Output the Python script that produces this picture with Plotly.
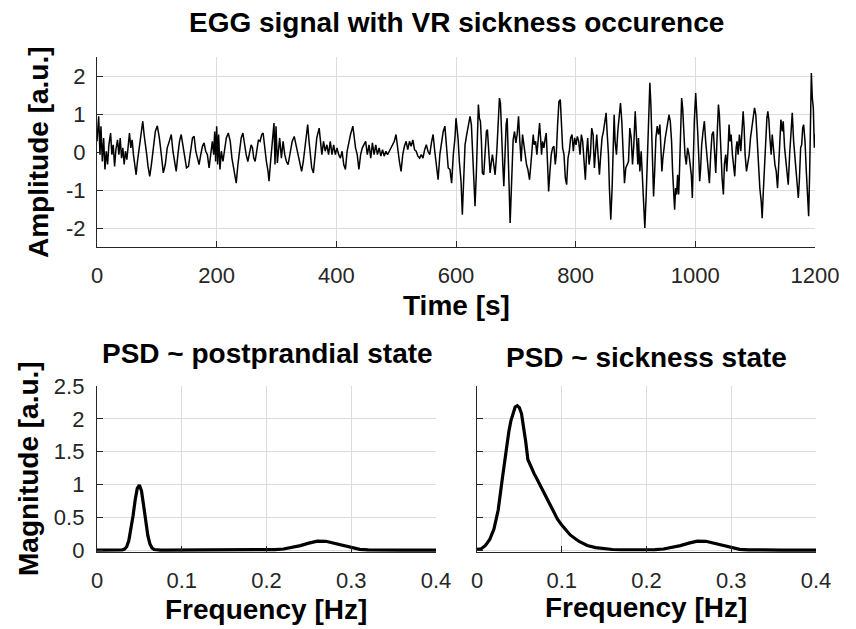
import plotly.graph_objects as go

# ---------------- data ----------------
# EGG signal (time in s, amplitude in a.u.)
egg_t_a = [0, 2.8, 5.0, 6.6, 8.9, 11.1, 13.3, 15.5, 17.7, 19.9,
           22.7, 24.9, 27.1, 29.4, 31.6, 34.3, 36.6, 38.8, 41.0, 43.2,
           45.4, 47.6, 49.9, 52.1, 54.3, 56.5, 58.7, 60.9, 63.2, 65.4,
           67.6, 69.8, 72.0, 74.2, 76.5, 78.7, 80.9, 83.1, 85.3, 88.1,
           90.9, 94.2, 97.5, 100.8, 104.2, 107.5, 110.8, 114.1, 117.4, 120.8,
           124.1, 126.9, 129.6, 132.4, 135.2, 137.9, 140.7, 143.5, 146.3, 149.6,
           152.9, 156.2, 159.6, 162.3, 165.1, 167.9, 170.6, 173.4, 176.2, 178.9,
           181.7, 184.5, 187.3, 190.0, 192.8, 195.0, 196.7, 198.3, 200.0, 201.7,
           203.3, 205.5, 207.8, 210.5, 213.3, 216.1, 219.4, 222.7, 225.5, 228.2,
           231.0, 232.7, 235.5, 238.2, 241.0, 243.8, 246.5, 249.3, 252.1, 254.8,
           257.6, 259.8, 262.0, 264.3, 267.0, 269.8, 272.6, 275.3, 277.6, 280.3,
           283.1, 285.9, 287.5, 289.7, 292.5, 294.2, 295.8, 297.5, 299.2, 301.4,
           303.0]
egg_v_a = [.28, .94, -.07, .68, -.25, .37, -.46, .02, -.33, .19,
           .50, -.07, .19, -.38, .06, .32, -.07, .37, -.16, .11,
           -.33, .02, -.20, .19, .50, .11, .32, -.07, -.38, -.60,
           -.25, .02, .37, .68, .81, .46, .24, -.07, -.38, -.64,
           -.33, .19, .54, .69, .37, -.07, -.55, -.33, .11, .28,
           .46, .02, -.25, -.51, -.07, .28, .46, .19, -.07, -.42,
           -.38, .06, .37, .41, .02, -.16, -.33, -.07, .15, .24,
           .02, -.07, -.42, -.07, .28, -.07, .54, -.25, .68, -.33,
           .46, -.46, .02, -.25, .11, .37, .50, .28, -.16, -.42,
           -.60, -.82, -.33, .02, .37, .50, .19, -.07, -.25, .02,
           .19, .11, -.16, -.25, .02, .32, .28, .46, .50, .11,
           -.25, -.51, -.77, -.33, .28, .63, .76, -.33, .68, -.29,
           .02]

egg_t_b = [305.3, 308.2, 311.0, 313.8, 316.6, 319.4, 322.3, 326.2, 329.6, 333.5,
           337.5, 342.0, 344.8, 348.7, 352.1, 354.4, 356.6, 358.9, 361.7, 364.5,
           367.3, 371.3, 373.5, 375.8, 378.6, 381.4, 384.2, 387.0, 389.9, 392.7,
           395.5, 398.3, 401.1, 403.9, 406.8, 409.6, 412.4, 415.2, 418.0, 420.8,
           423.7, 427.6, 429.9, 432.1, 434.9, 437.7, 440.6, 443.4, 449.0, 451.8,
           454.7, 457.5, 460.3, 463.1, 465.9, 468.7, 471.6, 474.4, 477.2, 480.0,
           482.8, 485.6, 488.5, 491.3, 496.9, 499.7, 502.5, 505.4, 508.2, 511.0,
           513.8, 516.6, 519.4, 522.3, 525.1, 527.9, 530.7, 533.5, 536.3, 539.2,
           542.0, 544.8, 547.6, 550.4, 553.2, 556.1, 558.9, 561.7, 564.5, 567.3,
           570.1, 573.0, 575.8, 578.6, 581.4, 584.2, 587.0, 589.9, 592.7, 595.5,
           598.3, 600.0]
egg_v_b = [.37, -.16, .28, -.07, -.25, -.33, -.07, .28, .41, .11,
           -.25, -.51, -.25, .28, .72, .28, -.07, -.42, -.55, -.07,
           .37, .63, .19, -.07, .28, .02, .19, -.07, .28, -.07,
           .19, -.07, .11, -.07, -.16, .02, -.33, -.46, .02, .28,
           .46, .68, .28, .11, -.07, -.46, -.07, .11, .28, -.07,
           .19, -.16, .24, -.07, .19, -.07, .11, -.11, .06, -.11,
           .02, -.07, .02, .11, .28, .46, .02, -.25, -.51, -.07,
           .15, .28, .06, .28, .15, .32, .06, .02, -.11, -.16,
           -.07, -.16, .06, .19, .02, -.07, .24, .46, .02, -.33,
           -.73, -.07, .28, .54, .68, .11, -.42, -.46, -.82, -.07,
           .37, .89]

egg_t_c = [603.4, 605.6, 608.4, 610.6, 612.9, 615.1, 617.9, 620.7, 623.5, 625.7,
           627.9, 630.2, 631.8, 634.1, 635.8, 637.4, 639.1, 640.8, 642.5, 644.1,
           646.4, 648.6, 650.8, 652.5, 654.8, 657.0, 659.2, 660.9, 663.1, 665.4,
           668.2, 670.4, 672.6, 674.3, 676.0, 678.2, 679.9, 682.1, 683.8, 685.5,
           687.2, 688.8, 690.5, 692.2, 693.9, 695.5, 697.8, 700.0, 702.2, 704.5,
           706.7, 708.9, 711.2, 713.4, 715.7, 717.9, 720.1, 722.9, 725.1, 727.4,
           729.1, 730.7, 733.0, 735.2, 737.4, 739.7, 741.4, 743.0, 744.7, 746.9,
           749.2, 750.8, 753.1, 754.8, 757.0, 759.2, 761.5, 763.7, 765.9, 767.6,
           769.8, 772.1, 774.3, 776.0, 778.2, 780.5, 782.7, 784.9, 787.2, 789.4,
           791.6, 793.9, 796.1, 798.3, 800.6, 802.8, 805.1, 807.3, 809.5, 811.7,
           814.0, 816.2, 818.4, 820.1, 822.4, 824.6, 826.8, 829.1, 831.3, 833.6,
           835.2, 837.4, 839.7, 841.9, 844.1, 846.4, 848.6, 850.9, 852.5, 854.8,
           856.4, 858.7, 860.9, 862.6, 864.3, 865.9, 868.2, 870.4, 872.6, 874.9,
           877.1, 879.4, 881.6, 883.8, 886.1, 888.3, 890.5, 892.8, 895.0, 897.2,
           899.5, 901.7, 903.9]
egg_v_c = [.37, -.25, -.77, -1.65, -.77, .19, .46, .68, .94, .72,
           -.07, -.95, -1.43, -.51, .28, 1.25, .89, .81, .28, -.55,
           -.60, -.07, .54, .59, -.07, -.55, -.25, -.07, -.33, -.60,
           .02, .72, 1.42, 1.29, .37, -.33, -.90, -.07, .72, .89,
           .11, -.95, -1.87, -1.12, -.07, .32, .54, .24, .46, .94,
           .28, -.25, .46, .19, -.07, -.33, -.46, -.73, -.33, .11,
           .46, .19, .28, -.07, .37, .76, .37, -.07, .28, .11,
           .37, .50, -.33, -1.04, -.51, -.07, .11, .15, -.33, -.07,
           .72, 1.33, 1.38, .81, .11, -.07, -.68, -.86, -.16, .02,
           .37, .46, .02, .37, .19, .41, .28, -.07, .46, .28,
           -.33, -.73, .02, .37, -.33, -.07, .63, .46, -.42, .02,
           .46, -.07, -.60, -.07, .37, .54, .81, 1.03, .54, -.07,
           -.95, -1.78, -.95, .19, .98, .28, -.07, .54, .98, 1.29,
           .81, -.07, -.82, -.42, -.33, -.25, .63, .37, -.33, .19,
           1.07, .46, -.33]

egg_t_d = [905.0, 907.3, 909.5, 911.7, 914.0, 915.6, 917.9, 920.1, 922.3, 924.0,
           925.7, 927.4, 929.0, 930.2, 931.8, 934.1, 936.3, 938.5, 940.8, 942.5,
           944.1, 945.8, 947.5, 949.7, 952.0, 954.2, 955.9, 958.1, 960.3, 962.0,
           963.7, 965.4, 967.0, 968.7, 970.4, 972.1, 973.2, 974.9, 977.1, 978.8,
           980.4, 982.7, 984.9, 987.1, 989.4, 991.6, 993.3, 995.0, 996.6, 998.3,
           1000.6, 1002.2, 1003.9, 1005.6, 1007.3, 1008.9, 1010.6, 1012.9, 1015.1, 1017.3,
           1019.0, 1021.2, 1023.5, 1025.7, 1027.9, 1030.2, 1032.4, 1034.1, 1036.3, 1038.6,
           1040.2, 1042.5, 1044.7, 1046.9, 1048.6, 1050.8, 1052.5, 1054.8, 1056.4, 1058.1,
           1059.8, 1062.0, 1063.7, 1065.9, 1068.2, 1069.8, 1071.5, 1073.7, 1076.0, 1077.7,
           1079.9, 1081.6, 1083.2, 1085.5, 1087.7, 1090.0, 1092.2, 1094.4, 1096.7, 1098.9,
           1101.1, 1103.4, 1105.6, 1107.8, 1110.1, 1111.7, 1113.4, 1115.7, 1117.9, 1119.6,
           1121.2, 1122.9, 1124.6, 1126.8, 1128.5, 1130.7, 1133.0, 1135.2, 1137.4, 1139.1,
           1140.8, 1143.0, 1145.3, 1146.9, 1149.2, 1150.8, 1153.1, 1155.3, 1157.6, 1159.8,
           1162.0, 1164.3, 1165.9, 1168.2, 1170.4, 1172.1, 1173.8, 1176.0, 1177.7, 1179.4,
           1181.0, 1183.3, 1185.5, 1187.7, 1189.4, 1191.1, 1192.8, 1193.9, 1195.5, 1197.2,
           1198.9, 1200.0]
egg_v_d = [.37, -.51, .02, -.68, -1.21, -2.0, -1.12, .19, 1.51, 1.82,
           1.25, .02, -.95, -1.17, -.60, .37, .68, .46, .72, .02,
           -.51, -.16, .11, .37, .59, .81, .98, .81, .28, -.51,
           -1.12, -1.52, -.95, -1.12, -.60, -1.12, -.68, .37, 1.42, 1.16,
           .46, -.07, -.33, .11, -.07, -.33, -.60, -1.21, -.07, .81,
           1.55, .81, .54, -.07, -.77, -.42, .19, .54, .81, .28,
           -.07, -.60, -.82, -.07, .46, .54, -.33, -.55, .37, 1.25,
           .98, -.07, -.68, -1.12, -.33, -.07, -.51, .11, .72, .28,
           .46, -.07, -.33, -.64, .11, .28, -.07, .46, .02, .46,
           1.07, .63, -.07, -.51, -.29, -.07, .37, .63, .89, 1.16,
           .98, .28, -.33, -.95, -1.30, -1.74, -1.12, -.25, .46, .89,
           1.07, .85, .37, -.07, .46, -.07, -.33, -.51, -.95, -.42,
           .28, .85, .54, .81, .11, -.16, -.60, -.86, -.07, .46,
           1.03, .28, -.07, -.60, -.86, -1.21, -.77, .11, .19, .63,
           .72, .28, -.51, -1.12, -1.69, -.51, 1.25, 2.08, 1.42, 1.16,
           .11, .46]

# Power spectral densities (frequency in Hz, magnitude in a.u.)
psd_freq = [0, 0.005, 0.01, 0.015, 0.02, 0.025,
            0.03, 0.0325, 0.035, 0.0375, 0.04, 0.0425, 0.045, 0.0475, 0.05, 0.0525,
            0.055, 0.0575, 0.06, 0.0625, 0.065, 0.0675, 0.07, 0.075, 0.08, 0.085,
            0.09, 0.095, 0.10, 0.11, 0.12, 0.13, 0.14, 0.15, 0.16, 0.17,
            0.18, 0.19, 0.20, 0.21, 0.22, 0.23, 0.24, 0.25, 0.26, 0.27,
            0.28, 0.29, 0.30, 0.31, 0.32, 0.33, 0.34, 0.36, 0.38, 0.40]
psd_postprandial = [0, 0, 0, 0, 0, 0,
                    .003, .015, .05, .14, .30, .52, .76, .94, .99, .90,
                    .68, .43, .22, .09, .03, .008, .002, 0, 0, 0,
                    0, 0, 0, 0, 0, 0, 0, 0, 0, 0,
                    0, 0, .002, .006, .016, .037, .068, .105, .135, .133,
                    .102, .063, .030, .011, .003, 0, 0, 0, 0, 0]
psd_sickness = [.01, .02, .07, .16, .32, .61,
                1.10, 1.35, 1.58, 1.80, 1.97, 2.10, 2.18, 2.20, 2.17, 2.08,
                1.88, 1.65, 1.38, 1.30, 1.22, 1.16, 1.10, .97, .84, .71,
                .58, .47, .38, .23, .135, .07, .036, .017, .008, .004,
                .002, .001, .002, .006, .016, .037, .068, .105, .135, .133,
                .102, .063, .030, .011, .003, 0, 0, 0, 0, 0]

# tick values / labels
time_ticks = [0, 200, 400, 600, 800, 1000, 1200]
amp_ticks = [-2, -1, 0, 1, 2]
amp_ticklabels = ["-2", "-1", "0", "1", "2"]
freq_ticks = [0, 0.1, 0.2, 0.3, 0.4]
mag_ticks = [0, 0.5, 1, 1.5, 2, 2.5]

# ---------------- figure ----------------
# the page body has an 8 px margin, so the figure is drawn 8 px in from the window edge
OFF = 8
W, H = 856 - OFF, 629 - OFF
FONT = "Liberation Sans, Arial, Helvetica, sans-serif"
AXC = "#262626"


def px(x):
    return (x - OFF) / W


def py(y):
    return 1 - (y - OFF) / H


egg_t = egg_t_a + egg_t_b + egg_t_c + egg_t_d
egg_v = egg_v_a + egg_v_b + egg_v_c + egg_v_d
assert len(egg_t) == len(egg_v)
assert len(psd_freq) == len(psd_postprandial) == len(psd_sickness)

fig = go.Figure()
fig.add_trace(go.Scatter(x=egg_t, y=egg_v, mode="lines",
                         line=dict(color="black", width=1.5),
                         xaxis="x", yaxis="y", showlegend=False, hoverinfo="skip"))
fig.add_trace(go.Scatter(x=psd_freq, y=psd_postprandial, mode="lines",
                         line=dict(color="black", width=3.2),
                         xaxis="x2", yaxis="y2", showlegend=False, hoverinfo="skip"))
fig.add_trace(go.Scatter(x=psd_freq, y=psd_sickness, mode="lines",
                         line=dict(color="black", width=3.2),
                         xaxis="x3", yaxis="y3", showlegend=False, hoverinfo="skip"))

common = dict(showline=True, linecolor=AXC, linewidth=1.3, mirror=False,
              ticks="inside", ticklen=6, tickwidth=1.3, tickcolor=AXC,
              showgrid=True, gridcolor="#dcdcdc", gridwidth=1, zeroline=False,
              automargin=False,
              tickfont=dict(family=FONT, size=22, color=AXC), fixedrange=True)

top_x = [px(97), px(815)]
top_y = [py(247), py(57)]
bl_x = [px(97), px(436)]
br_x = [px(477), px(816)]
b_y = [py(552), py(386)]

fig.update_layout(
    width=W, height=H, autosize=False,
    margin=dict(l=0, r=0, t=0, b=0, pad=0, autoexpand=False),
    paper_bgcolor="white", plot_bgcolor="white",
    showlegend=False,
    xaxis=dict(domain=top_x, range=[0, 1200], tickvals=time_ticks, anchor="y",
               ticklabelstandoff=8, **common),
    yaxis=dict(domain=top_y, range=[-2.5, 2.5], tickvals=amp_ticks,
               ticktext=amp_ticklabels, anchor="x", ticklabelstandoff=6, **common),
    xaxis2=dict(domain=bl_x, range=[0, 0.4], tickvals=freq_ticks, anchor="y2",
                ticklabelstandoff=8, **common),
    yaxis2=dict(domain=b_y, range=[-0.03, 2.5], tickvals=mag_ticks, anchor="x2",
                ticklabelstandoff=7, **common),
    xaxis3=dict(domain=br_x, range=[0, 0.4], tickvals=freq_ticks, anchor="y3",
                ticklabelstandoff=8, **common),
    yaxis3=dict(domain=b_y, range=[-0.03, 2.5], tickvals=mag_ticks, anchor="x3",
                showticklabels=False, **common),
)

BOLD = dict(family=FONT, size=28, color="black", weight="bold")
texts = [
    ("EGG signal with VR sickness occurence", 456, 23, 0),
    ("Time [s]", 456, 305, 0),
    ("Amplitude [a.u.]", 38, 152, -90),
    ("PSD ~ postprandial state", 267, 353, 0),
    ("PSD ~ sickness state", 646, 358, 0),
    ("Magnitude [a.u.]", 28, 469, -90),
    ("Frequency [Hz]", 266, 609, 0),
    ("Frequency [Hz]", 646, 607, 0),
]
for txt, x, y, ang in texts:
    fig.add_annotation(text=txt, x=px(x), y=py(y), xref="paper", yref="paper",
                       xanchor="center", yanchor="middle", showarrow=False,
                       textangle=ang, font=BOLD)

fig.write_html("out.html")
